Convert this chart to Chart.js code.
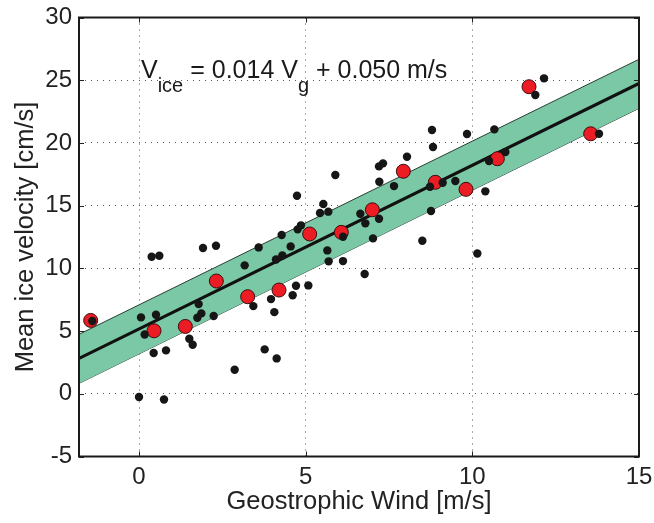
<!DOCTYPE html>
<html><head><meta charset="utf-8">
<script src="https://cdn.jsdelivr.net/npm/chart.js@4"></script>
<style>html,body{margin:0;padding:0;background:#fff}</style>
</head><body>
<canvas id="c" width="654" height="523" style="width:654px;height:523px;display:block"></canvas>
<script>
// ---- data ----
const blackX = [-1.40,0.38,0.61,1.92,2.31,3.17,0.06,0.51,1.79,1.87,1.75,2.24,0.17,1.51,1.61,0.44,0.81,2.87,0.00,0.75,
  7.32,7.20,5.89,7.21,4.74,5.53,5.43,5.68,6.64,6.79,7.20,7.02,4.86,4.76,6.12,4.28,3.59,4.55,4.30,4.11,
  5.65,5.69,6.12,6.77,4.71,5.08,4.61,3.96,3.43,4.06,3.77,4.13,12.15,11.89,13.80,8.79,9.84,10.66,8.82,8.04,
  7.65,8.73,9.11,9.49,10.39,10.50,10.99,8.76,8.50,10.15];
const blackY = [5.80,10.93,11.00,11.62,11.80,10.24,6.09,6.30,7.15,6.41,6.06,6.20,4.73,4.39,3.91,3.25,3.46,1.92,-0.26,-0.45,
  18.37,18.13,17.44,16.90,15.79,15.13,14.41,14.52,14.35,13.59,13.96,12.39,13.43,13.11,12.52,12.66,11.67,11.75,11.03,10.71,
  11.43,10.56,10.58,9.55,8.61,8.64,7.85,7.55,6.99,6.51,3.54,2.82,25.15,23.82,20.73,21.03,20.71,21.08,19.67,18.90,
  16.56,16.51,16.83,16.96,16.14,18.56,19.27,14.57,12.20,11.19];
const redX = [-1.45,0.45,1.39,2.32,3.26,4.20,5.12,6.07,7.00,7.93,8.89,9.81,10.75,11.70,13.55];
const redY = [5.85,5.02,5.37,8.99,7.74,8.27,12.74,12.87,14.67,17.74,16.86,16.30,18.74,24.48,20.73];
const fitX = [-1.8, 15];
const fitY = [2.82, 24.75];
const bandUpper = [4.74, 26.67];
const bandLower = [0.83, 22.76];
const xTicks = [0, 5, 10, 15];
const yTicks = [-5, 0, 5, 10, 15, 20, 25, 30];

const pts = (xs, ys) => xs.map((x, i) => ({x: x, y: ys[i]}));
const FONT = "'Liberation Sans', Arial, Helvetica, sans-serif";

const deco = {
  id: 'deco',
  afterDatasetsDraw(chart) {
    const ctx = chart.ctx, a = chart.chartArea;
    const xs = chart.scales.x, ys = chart.scales.y;
    ctx.save();
    ctx.strokeStyle = '#222';
    ctx.lineWidth = 1;
    const tl = 5;
    ctx.beginPath();
    xTicks.forEach(v => {
      const px = Math.round(xs.getPixelForValue(v)) + 0.5;
      ctx.moveTo(px, a.bottom); ctx.lineTo(px, a.bottom - tl);
      ctx.moveTo(px, a.top); ctx.lineTo(px, a.top + tl);
    });
    yTicks.forEach(v => {
      const py = Math.round(ys.getPixelForValue(v)) + 0.5;
      ctx.moveTo(a.left, py); ctx.lineTo(a.left + tl, py);
      ctx.moveTo(a.right, py); ctx.lineTo(a.right - tl, py);
    });
    ctx.stroke();
    ctx.lineWidth = 2;
    ctx.strokeStyle = '#1a1a1a';
    ctx.strokeRect(a.left, a.top, a.right - a.left, a.bottom - a.top);
    ctx.restore();
  },
  afterDraw(chart) {
    const ctx = chart.ctx;
    ctx.save();
    ctx.fillStyle = '#1a1a1a';
    ctx.textBaseline = 'alphabetic';
    let x = 141;
    const base = 78, sub = 92;
    const big = '25px ' + FONT, small = '20px ' + FONT;
    const put = (t, f, y) => { ctx.font = f; ctx.fillText(t, x, y); x += ctx.measureText(t).width; };
    put('V', big, base);
    put('ice', small, sub);
    put(' = 0.014 V', big, base);
    put('g', small, sub);
    put(' + 0.050 m/s', big, base);
    ctx.restore();
  }
};

new Chart(document.getElementById('c'), {
  type: 'scatter',
  data: {
    datasets: [
      { data: pts(blackX, blackY), pointRadius: 4.2, pointBackgroundColor: '#161616', pointBorderColor: '#161616', pointBorderWidth: 0, showLine: false, order: 0 },
      { data: pts(redX, redY), pointRadius: 7, pointBackgroundColor: '#ec1c24', pointBorderColor: '#3b0d0d', pointBorderWidth: 1, showLine: false, order: 1 },
      { data: pts(fitX, fitY), showLine: true, pointRadius: 0, borderColor: '#111', borderWidth: 3.2, fill: false, order: 2 },
      { data: pts(fitX, bandLower), showLine: true, pointRadius: 0, borderColor: '#2b3f34', borderWidth: 1, fill: false, order: 4 },
      { data: pts(fitX, bandUpper), showLine: true, pointRadius: 0, borderColor: '#2b3f34', borderWidth: 1, fill: 3, backgroundColor: '#7ac8a5', order: 3 }
    ]
  },
  options: {
    responsive: false,
    animation: false,
    devicePixelRatio: 1,
    layout: { padding: { top: 17.5, right: 15, left: 0, bottom: 0 } },
    plugins: { legend: { display: false }, tooltip: { enabled: false } },
    elements: { line: { tension: 0 } },
    scales: {
      x: {
        type: 'linear', min: -1.8, max: 15,
        afterBuildTicks: s => { s.ticks = xTicks.map(v => ({ value: v })); },
        afterFit: s => { s.height = 66.5; s.paddingLeft = 0; s.paddingRight = 0; },
        grid: { color: '#555', lineWidth: 1, drawTicks: false },
        border: { display: false, dash: [1, 5] },
        ticks: { color: '#222', font: { family: FONT, size: 24 }, padding: 6, maxRotation: 0 },
        title: { display: true, text: 'Geostrophic Wind [m/s]', color: '#222', font: { family: FONT, size: 25.5 }, padding: { top: 0, bottom: 5.5 } }
      },
      y: {
        type: 'linear', min: -5, max: 30,
        afterBuildTicks: s => { s.ticks = yTicks.map(v => ({ value: v })); },
        afterFit: s => { s.width = 79; s.paddingTop = 0; s.paddingBottom = 0; },
        grid: { color: '#555', lineWidth: 1, drawTicks: false },
        border: { display: false, dash: [1, 5] },
        ticks: { color: '#222', font: { family: FONT, size: 24 }, padding: 7 },
        title: { display: true, text: 'Mean ice velocity [cm/s]', color: '#222', font: { family: FONT, size: 25.5 }, padding: { top: 10.5, bottom: 0 } }
      }
    }
  },
  plugins: [deco]
});
</script>
</body></html>
